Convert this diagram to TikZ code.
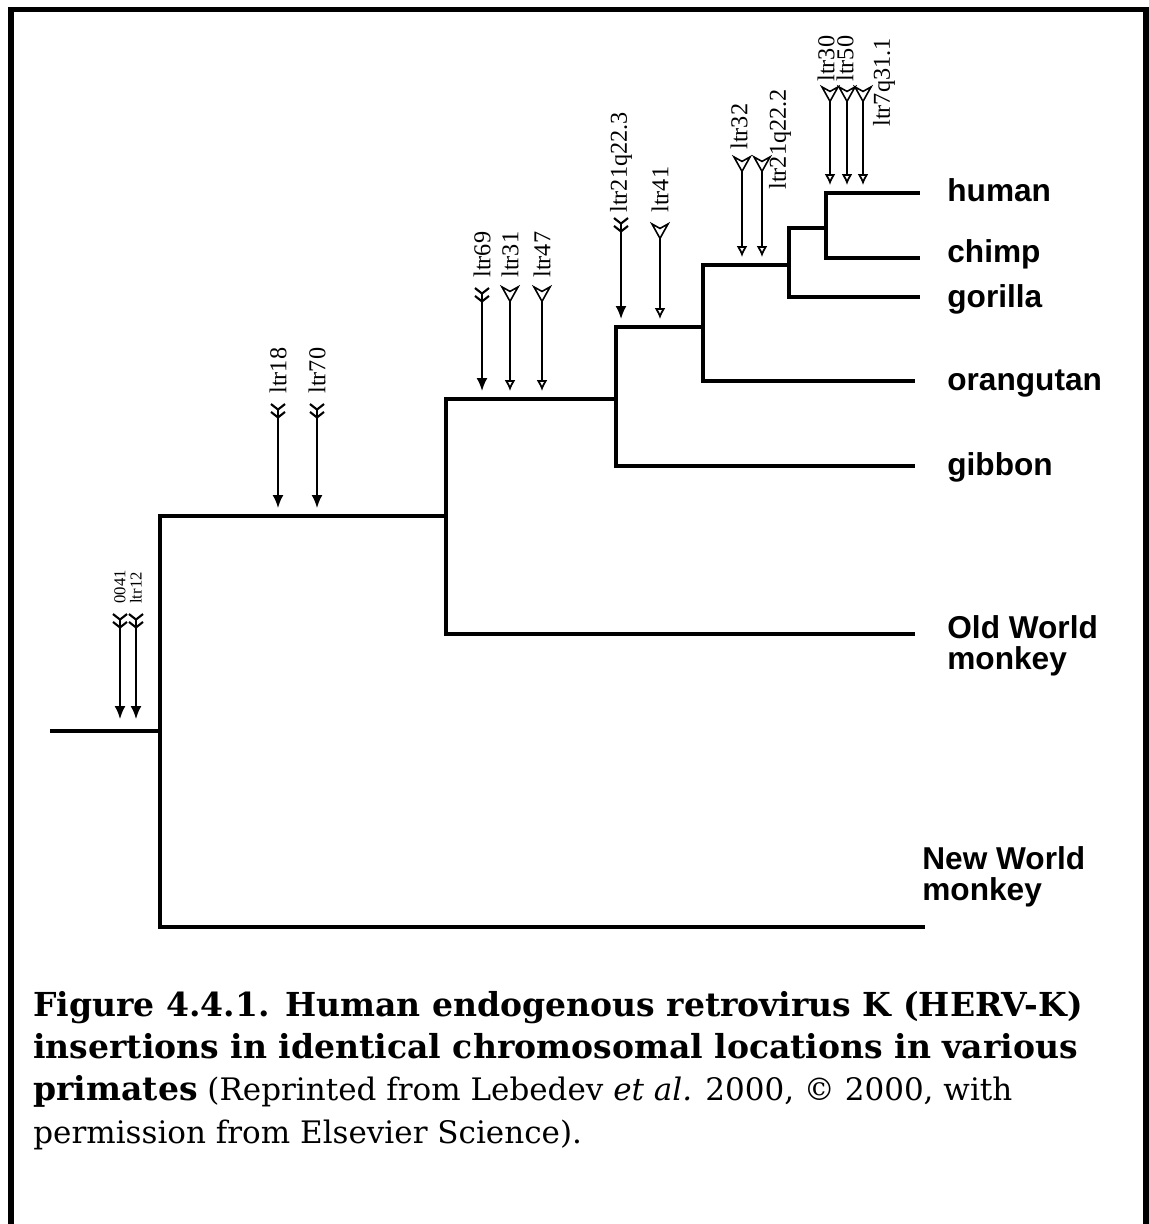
\documentclass[tikz,border=0pt]{standalone}
\usepackage{fontspec}
\setmainfont{DejaVu Serif}
\newfontfamily\ltrfont{Liberation Serif}
\newfontfamily\taxfont{Liberation Sans}
\usetikzlibrary{arrows.meta}
\tikzset{>={Latex[width=2.2mm,length=2.6mm]}}
\tikzset{
  frame/.style={line width=0.11cm},
  branch/.style={line width=1.9pt},
  fullins/.style={line width=1.1pt,
    {Straight Barb[reversed,length=1.1mm,width=2.8mm,line width=1.2pt] Straight Barb[reversed,length=1.1mm,width=2.8mm,line width=1.2pt]}-{Latex[width=2.2mm,length=2.6mm]}},
  openins/.style={line width=1.1pt,
    {Stealth[open,reversed,length=3.6mm,width=4mm,inset=1.1mm,line width=0.9pt]}-{Latex[open,width=2.2mm,length=2.2mm,line width=1pt]}},
  ltrlabel/.style={rotate=90, anchor=west, inner sep=0pt, font=\ltrfont\fontsize{13.8}{14}\selectfont},
  ltrsmall/.style={ltrlabel, font=\ltrfont\fontsize{9.5}{10}\selectfont},
  taxon/.style={anchor=base west, align=left, inner sep=0pt, font=\taxfont\bfseries\fontsize{18}{17.5}\selectfont},
  caption/.style={anchor=base west, align=left, inner sep=0pt, font=\fontsize{17.65}{24}\selectfont}
}
\newcommand{\capbf}[1]{{\fontsize{18.8}{24}\selectfont\bfseries #1}}

\begin{document}
\begin{tikzpicture}[x=0.02cm, y=-0.02cm]
  \useasboundingbox (0,0) rectangle (1149,1224);
  % Draw open frame
  \draw[frame] (11,1224) -- (11,9.5) -- (1146,9.5) -- (1146,1224);
  % Branch points and leaf ends
  \coordinate (stub) at (50,731);
  \coordinate (nA) at (160,731);
  \coordinate (nB) at (446,516);
  \coordinate (nC) at (616,399);
  \coordinate (nD) at (703,327);
  \coordinate (nE) at (789,265);
  \coordinate (nF) at (826,228);
  \coordinate (lnwm) at (925,927);
  \coordinate (lowm) at (915,634);
  \coordinate (lgib) at (915,466);
  \coordinate (lora) at (915,381);
  \coordinate (lgor) at (920,297);
  \coordinate (lchi) at (920,258);
  \coordinate (lhum) at (920,193);
  % Draw the tree
  \draw[branch] (stub) -- (nA);
  \draw[branch] (nA) |- (lnwm);
  \draw[branch] (nA) |- (nB);
  \draw[branch] (nB) |- (lowm);
  \draw[branch] (nB) |- (nC);
  \draw[branch] (nC) |- (lgib);
  \draw[branch] (nC) |- (nD);
  \draw[branch] (nD) |- (lora);
  \draw[branch] (nD) |- (nE);
  \draw[branch] (nE) |- (lgor);
  \draw[branch] (nE) |- (nF);
  \draw[branch] (nF) |- (lhum);
  \draw[branch] (nF) |- (lchi);
  % Taxon names (base of a two-line name is its last line)
  \node[taxon] (human) at (947,201) {human};
  \node[taxon] (chimp) at (947,262) {chimp};
  \node[taxon] (gorilla) at (947,307) {gorilla};
  \node[taxon] (orangutan) at (947,390) {orangutan};
  \node[taxon] (gibbon) at (947,475) {gibbon};
  \node[taxon] (owm) at (947,669) {Old World\\monkey};
  \node[taxon] (nwm) at (922,900) {New World\\monkey};
  % Draw insertion arrows and their labels
  \foreach \i/\x/\yt/\yh/\ins/\lf/\lx/\ly/\txt in {
      1/120/613/719/fullins/ltrsmall/120/604/0041,
      2/136/613/719/fullins/ltrsmall/136/604/ltr12,
      3/278/403/508/fullins/ltrlabel/278/394/ltr18,
      4/317/403/508/fullins/ltrlabel/317/394/ltr70,
      5/482/287/391/fullins/ltrlabel/482/278/ltr69,
      6/510/285/391/openins/ltrlabel/510/278/ltr31,
      7/542/285/391/openins/ltrlabel/542/278/ltr47,
      8/621/217/319/fullins/ltrlabel/621/213/ltr21q22.3,
      9/660/222/319/openins/ltrlabel/660/213/ltr41,
      10/742/155/257/openins/ltrlabel/739/150/ltr32,
      11/762/155/257/openins/ltrlabel/780/190/ltr21q22.2,
      12/830/85/185/openins/ltrlabel/826/82/ltr30,
      13/847/85/185/openins/ltrlabel/845/82/ltr50,
      14/863/85/185/openins/ltrlabel/884/127/ltr7q31.1} {
    \coordinate (tail\i) at (\x,\yt);
    \coordinate (tip\i) at (\x,\yh);
    \draw[\ins] (tail\i) -- (tip\i);
    \node[\lf] (lab\i) at (\lx,\ly) {\txt};
  }
  % Caption (anchored on the baseline of its last line)
  \node[caption] (cap) at (33,1143) {%
    \capbf{Figure 4.4.1. Human endogenous retrovirus K (HERV-K)}\\
    \capbf{insertions in identical chromosomal locations in various}\\
    \capbf{primates} (Reprinted from Lebedev \textit{et al.} 2000, © 2000, with\\
    permission from Elsevier Science).};
\end{tikzpicture}
\end{document}
